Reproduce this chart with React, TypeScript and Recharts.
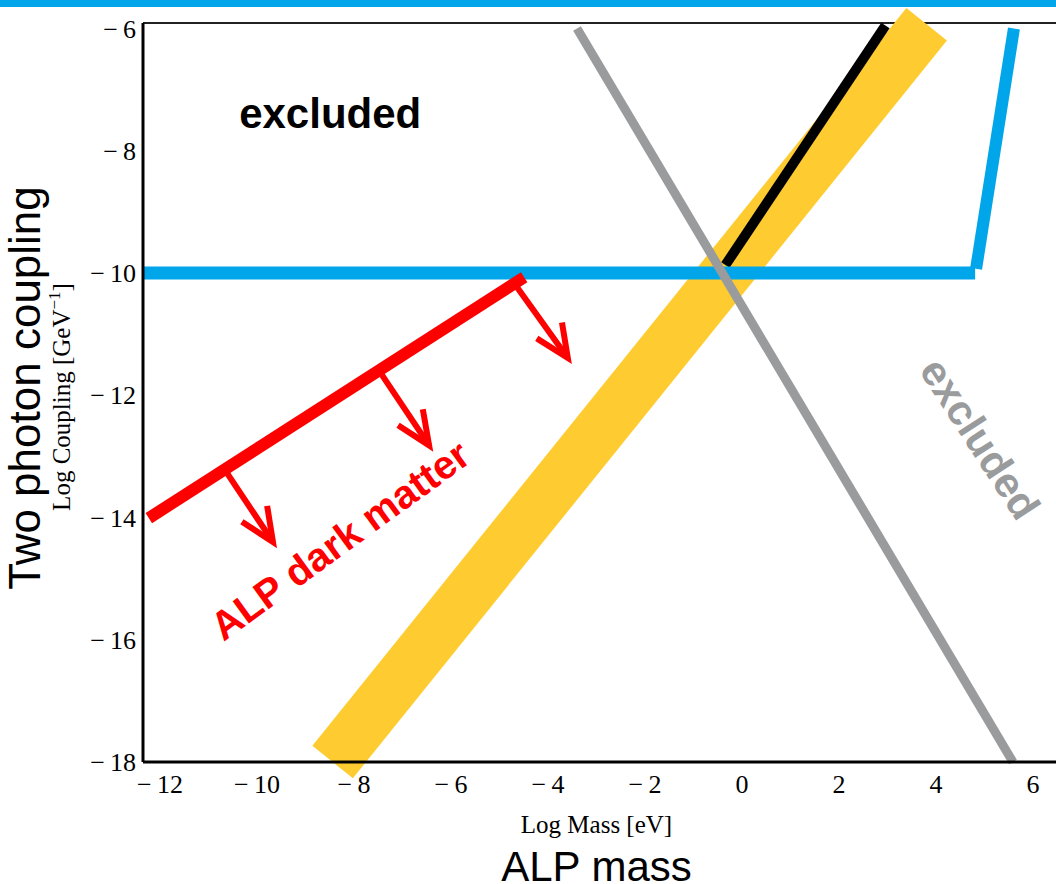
import React from 'react';
import { LineChart, Line, XAxis, YAxis, ReferenceLine, ReferenceDot, Label } from 'recharts';

// axes (log10 of mass in eV, log10 of coupling in GeV^-1)
const xTicks = [-12, -10, -8, -6, -4, -2, 0, 2, 4, 6];
const yTicks = [-18, -16, -14, -12, -10, -8, -6];
const xDomain = [-12.31, 6.6];
const yDomain = [-18, -5.91];

// limit lines
const blueFlat = [{ x: -12.31, y: -10 }, { x: 4.85, y: -10 }];
const blueSteep = [{ x: 4.87, y: -9.93 }, { x: 5.65, y: -6.0 }];
const blackLine = [{ x: -0.3, y: -9.87 }, { x: 3.0, y: -5.95 }];
const yellowBand = [{ x: -8.4, y: -18 }, { x: 3.85, y: -5.93 }];
const grayLine = [{ x: -3.36, y: -6.0 }, { x: 5.63, y: -18 }];
const redLine = [{ x: -12.19, y: -14.01 }, { x: -4.45, y: -10.07 }];

// arrows hanging from the red line
const arrowShafts = [
  [{ x: -4.6, y: -10.23 }, { x: -3.55, y: -11.39 }],
  [{ x: -7.38, y: -11.67 }, { x: -6.41, y: -12.82 }],
  [{ x: -10.58, y: -13.27 }, { x: -9.63, y: -14.4 }],
];
const arrowHeads = [
  [{ x: -3.67, y: -10.81 }, { x: -3.55, y: -11.39 }, { x: -4.19, y: -11.07 }],
  [{ x: -6.54, y: -12.23 }, { x: -6.41, y: -12.82 }, { x: -7.05, y: -12.49 }],
  [{ x: -9.75, y: -13.81 }, { x: -9.63, y: -14.4 }, { x: -10.27, y: -14.07 }],
];

// annotations
const noteTexts = ['excluded', 'excluded', 'ALP dark matter'];
const noteX = [-8.45, 4.95, -8.25];
const noteY = [-7.39, -12.71, -14.37];
const noteAngles = [0, 57, -36];

const SANS = '"Liberation Sans", Arial, sans-serif';
const SERIF = '"Liberation Serif", "Times New Roman", serif';
const noteColors = ['#000000', '#9A9B9D', '#FF0000'];
const noteSizes = [42, 42, 40];

const fmt = (v: number) => (v < 0 ? '\u2212\u2009' + Math.abs(v) : String(v));

const XTick = ({ x, y, payload }: any) => (
  <text x={x + 2} y={y + 23} textAnchor="middle" fontFamily={SERIF} fontSize={26} fill="#000">
    {fmt(payload.value)}
  </text>
);

const YTick = ({ x, y, payload }: any) => (
  <text x={x + 1} y={y + 9} textAnchor="end" fontFamily={SERIF} fontSize={26} fill="#000">
    {fmt(payload.value)}
  </text>
);

const XTitle = ({ viewBox }: any) => {
  const cx = viewBox.x + viewBox.width / 2 - 5;
  return (
    <g>
      <text x={cx} y={833} textAnchor="middle" fontFamily={SERIF} fontSize={25} fill="#000">
        Log Mass [eV]
      </text>
      <text x={cx} y={881} textAnchor="middle" fontFamily={SANS} fontSize={42} fill="#000">
        ALP mass
      </text>
    </g>
  );
};

const YTitle = () => (
  <g>
    <text transform="translate(40,388) rotate(-90)" textAnchor="middle" fontFamily={SANS} fontSize={44} fill="#000">
      Two photon coupling
    </text>
    <text transform="translate(70,397) rotate(-90)" textAnchor="middle" fontFamily={SERIF} fontSize={25} fill="#000">
      Log Coupling [GeV
      <tspan fontSize={17} dy={-10}>{'\u22121'}</tspan>
      <tspan dy={10}>]</tspan>
    </text>
  </g>
);

const seg = (key: string, data: any[], color: string, width: number) => (
  <Line
    key={key}
    data={data}
    dataKey="y"
    type="linear"
    stroke={color}
    strokeWidth={width}
    strokeLinecap="butt"
    strokeLinejoin="miter"
    dot={false}
    activeDot={false}
    legendType="none"
    isAnimationActive={false}
  />
);

export default function App() {
  return (
    <div style={{ position: 'absolute', left: 0, top: 0, width: 1056, height: 884, overflow: 'hidden', background: '#fff' }}>
      <div style={{ position: 'absolute', left: 0, top: 0, width: 1056, height: 7, background: '#00A6E9' }} />
      <LineChart width={1070} height={884} margin={{ top: 23, right: 10, left: 0, bottom: 82 }}>
        <XAxis
          type="number"
          dataKey="x"
          domain={xDomain}
          ticks={xTicks}
          interval={0}
          height={40}
          tickLine={false}
          tickSize={6}
          tickMargin={2}
          axisLine={{ stroke: '#000', strokeWidth: 3 }}
          tick={<XTick />}
        >
          <Label content={<XTitle />} />
        </XAxis>
        <YAxis
          type="number"
          domain={yDomain}
          ticks={yTicks}
          interval={0}
          width={143}
          tickLine={false}
          tickSize={6}
          tickMargin={2}
          axisLine={{ stroke: '#000', strokeWidth: 3 }}
          tick={<YTick />}
        >
          <Label content={<YTitle />} />
        </YAxis>
        <ReferenceLine y={yDomain[1]} stroke="#222" strokeWidth={2} />
        {seg('yellow', yellowBand, '#FECC30', 52)}
        {seg('black', blackLine, '#000000', 10)}
        {seg('blueFlat', blueFlat, '#00A6E9', 13)}
        {seg('blueSteep', blueSteep, '#00A6E9', 12)}
        {seg('gray', grayLine, '#9A9B9D', 9)}
        {seg('red', redLine, '#FF0000', 12)}
        {arrowShafts.map((d, i) => seg('shaft' + i, d, '#FF0000', 6))}
        {arrowHeads.map((d, i) => seg('head' + i, d, '#FF0000', 6))}
        {noteTexts.map((t, i) => (
          <ReferenceDot
            key={'note' + i}
            x={noteX[i]}
            y={noteY[i]}
            r={0}
            shape={(p: any) => (
              <text
                x={p.cx}
                y={p.cy}
                transform={`rotate(${noteAngles[i]} ${p.cx} ${p.cy})`}
                textAnchor="middle"
                dominantBaseline="central"
                fontFamily={SANS}
                fontWeight="bold"
                fontSize={noteSizes[i]}
                fill={noteColors[i]}
              >
                {t}
              </text>
            )}
          />
        ))}
      </LineChart>
    </div>
  );
}
